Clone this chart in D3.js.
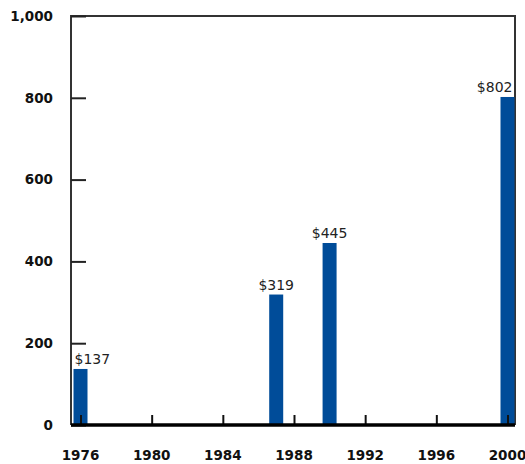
<!DOCTYPE html>
<html><head><meta charset="utf-8">
<script src="https://cdn.jsdelivr.net/npm/d3@7"></script>
<style>body{margin:0;background:#fff}svg{display:block}</style>
</head><body><svg id="c" width="525" height="464"></svg>
<script>
const years = [1976, 1987, 1990, 2000];
const values = [137, 319, 445, 802];
const labels = ["$137", "$319", "$445", "$802"];
const labelAnchor = ["start", "middle", "middle", "end"];
const xTicks = [1976, 1980, 1984, 1988, 1992, 1996, 2000];
const yTicks = [0, 200, 400, 600, 800, 1000];

const svg = d3.select("#c");
const x = d3.scaleLinear().domain([1976, 2000]).range([80.5, 507.5]);
const y = d3.scaleLinear().domain([0, 1000]).range([425, 16]);
const left = 71, right = 515, barW = 14;
const font = "'DejaVu Sans', Verdana, sans-serif";

// frame
svg.append("path").attr("d", `M${left},${y(0)}V${y(1000)}H${right}V${y(0)}`)
  .attr("fill", "none").attr("stroke", "#333").attr("stroke-width", 2);

// bars
svg.selectAll("rect.bar").data(years).join("rect")
  .attr("x", (d) => x(d) - barW / 2).attr("width", barW)
  .attr("y", (d, i) => y(values[i])).attr("height", (d, i) => y(0) - y(values[i]))
  .attr("fill", "#004c99");

// value labels
svg.selectAll("text.val").data(years).join("text")
  .attr("x", (d, i) => labelAnchor[i] === "start" ? x(d) - barW / 2 + 1 : labelAnchor[i] === "end" ? x(d) + barW / 2 - 2 : x(d))
  .attr("y", (d, i) => y(values[i]) - 5)
  .attr("text-anchor", (d, i) => labelAnchor[i])
  .attr("font-family", font).attr("font-size", 14).attr("fill", "#222")
  .text((d, i) => labels[i]);

// y ticks
const yAxis = d3.axisRight(y).tickValues(yTicks).tickSize(15).tickFormat("");
const gy = svg.append("g").attr("transform", `translate(${left},0)`).call(yAxis);
gy.select(".domain").remove();
gy.selectAll("line").attr("stroke", "#222").attr("stroke-width", 2);
svg.selectAll("text.yl").data(yTicks).join("text")
  .attr("x", 53).attr("y", (d) => y(d)).attr("dy", "0.35em")
  .attr("text-anchor", "end").attr("font-family", font).attr("font-size", 13.5)
  .attr("font-weight", "bold").attr("fill", "#111")
  .text(d3.format(","));

// x ticks
const xAxis = d3.axisTop(x).tickValues(xTicks).tickSize(10).tickFormat("");
const gx = svg.append("g").attr("transform", `translate(0,${y(0)})`).call(xAxis);
gx.select(".domain").remove();
gx.selectAll("line").attr("stroke", "#111").attr("stroke-width", 2);
svg.selectAll("text.xl").data(xTicks).join("text")
  .attr("x", (d) => x(d)).attr("y", 460)
  .attr("text-anchor", "middle").attr("font-family", font).attr("font-size", 13.5)
  .attr("font-weight", "bold").attr("fill", "#111")
  .text((d) => d);

// baseline
svg.append("line").attr("x1", left).attr("x2", right).attr("y1", y(0)).attr("y2", y(0))
  .attr("stroke", "#000").attr("stroke-width", 3.5);
</script></body></html>
